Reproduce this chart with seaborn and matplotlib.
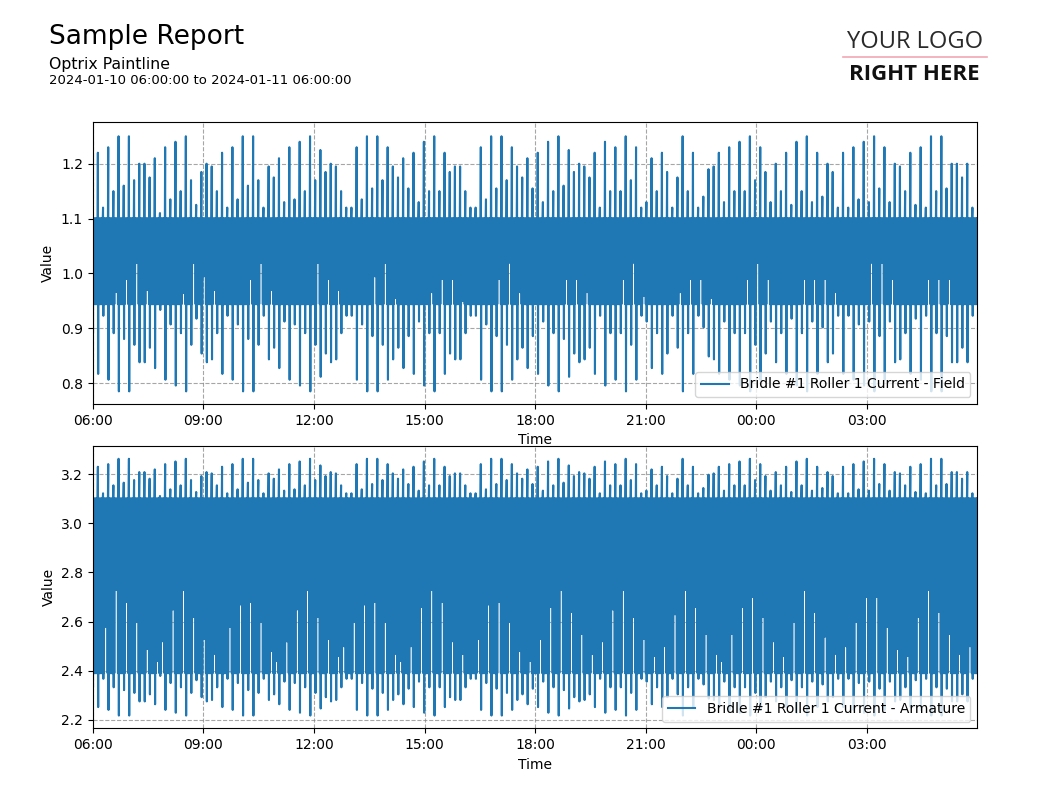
import numpy as np
import pandas as pd
import seaborn as sns
import matplotlib.pyplot as plt
import matplotlib.dates as mdates
from matplotlib.lines import Line2D

start = '2024-01-10 06:00:00'
end = '2024-01-11 06:00:00'

# spike size above/below the normal band, one per ~8.4 min
spike_dev = [
    0.05, 0.12, 0.02, 0.13, 0.05, 0.15, 0.06, 0.15, 0.07, 0.10, 0.10, 0.075, 0.11, 0.01, 0.13,
    0.035, 0.14, 0.05, 0.15, 0.07, 0.025, 0.085, 0.10, 0.095, 0.05, 0.12, 0.02, 0.13, 0.035, 0.15,
    0.06, 0.15, 0.07, 0.02, 0.095, 0.075, 0.11, 0.03, 0.13, 0.035, 0.14, 0.05, 0.15,
    0.07, 0.125, 0.085, 0.10, 0.095, 0.05, 0.02, 0.02, 0.13, 0.035, 0.15, 0.055, 0.15, 0.07, 0.13,
    0.095, 0.075, 0.11, 0.055, 0.12, 0.03, 0.14, 0.05, 0.15, 0.05, 0.12, 0.085, 0.095, 0.095, 0.05,
    0.02, 0.02, 0.13, 0.035, 0.15, 0.055, 0.15, 0.07, 0.13, 0.095, 0.075, 0.11, 0.055,
    0.12, 0.03, 0.14, 0.05, 0.15, 0.06, 0.125, 0.085, 0.10, 0.095, 0.075, 0.12, 0.02, 0.14, 0.05,
    0.13, 0.05, 0.15, 0.07, 0.13, 0.02, 0.03, 0.11, 0.05, 0.12, 0.085, 0.02, 0.075, 0.15, 0.05,
    0.12, 0.02, 0.04, 0.09, 0.095, 0.12, 0.03, 0.13, 0.05, 0.14, 0.05, 0.15,
    0.07, 0.13, 0.085, 0.03, 0.10, 0.05, 0.12, 0.025, 0.14, 0.05, 0.15, 0.03, 0.12, 0.04, 0.10,
    0.085, 0.02, 0.12, 0.02, 0.13, 0.035, 0.14, 0.03, 0.15, 0.055, 0.13, 0.03, 0.10, 0.095, 0.05,
    0.12, 0.025, 0.13, 0.02, 0.15, 0.05, 0.15, 0.055, 0.10, 0.10, 0.075, 0.10, 0.02,
]

# field current: normal band and spike extremes
field_band = (0.944, 1.100)
field_scale = (1.06, 1.0)   # down, up
field_gap_cycles = [4, 6, 8, 10, 17, 19, 21, 23, 30, 32, 34, 43, 45, 47, 54, 56, 58,
                    65, 67, 69, 71, 78, 80, 82, 91, 93, 95, 102, 104, 106, 113, 115, 117, 119,
                    126, 128, 130, 137, 139, 141, 143, 150, 152, 154, 161, 163, 165]
field_gap_levels = [0.967, 0.99, 1.02, 0.97, 0.965, 1.02, 0.995, 0.97, 0.99, 1.02, 0.97,
                    1.02, 0.99, 0.97, 0.995, 1.02, 0.956, 0.966, 0.99, 0.99, 0.95, 0.99, 1.02,
                    0.966, 0.99, 0.99, 0.966, 0.99, 1.02, 0.96, 0.966, 0.99, 0.99, 0.956,
                    0.99, 1.02, 0.99, 0.99, 0.99, 0.99, 0.966, 1.02, 1.02, 0.99, 0.99, 0.99, 0.99]

# armature current
arm_band = (2.39, 3.10)
arm_scale = (1.15, 1.08)
arm_gap_cycles = [2, 4, 6, 8, 10, 12, 13, 15, 17, 19, 21, 23, 26, 28, 30, 32, 34, 35, 37, 39,
                  41, 43, 45, 47, 48, 50, 52, 54, 56, 58, 59, 61, 63, 65, 67, 69, 71, 74, 76,
                  78, 80, 82, 84, 86, 88, 90, 92, 94, 96, 98, 100, 102, 104, 106, 108, 110,
                  112, 114, 116, 118, 120, 121, 123, 125, 127, 129, 131, 133, 135, 137, 139,
                  141, 143, 145, 147, 149, 151, 153, 155, 157, 159, 161, 163, 165, 167, 169]
arm_gap_levels = [2.58, 2.73, 2.68, 2.60, 2.49, 2.44, 2.52, 2.65, 2.73, 2.62, 2.53, 2.47,
                  2.58, 2.67, 2.68, 2.60, 2.48, 2.44, 2.52, 2.65, 2.73, 2.62, 2.53, 2.46,
                  2.50, 2.60, 2.67, 2.68, 2.60, 2.47, 2.44, 2.50, 2.66, 2.73, 2.68, 2.52,
                  2.47, 2.53, 2.67, 2.68, 2.60, 2.48, 2.44, 2.53, 2.66, 2.73, 2.64, 2.55,
                  2.47, 2.52, 2.65, 2.73, 2.62, 2.53, 2.46, 2.50, 2.63, 2.73, 2.66, 2.55,
                  2.47, 2.44, 2.55, 2.66, 2.70, 2.62, 2.52, 2.46, 2.60, 2.73, 2.64, 2.54,
                  2.47, 2.50, 2.60, 2.70, 2.70, 2.58, 2.49, 2.46, 2.62, 2.73, 2.64, 2.55,
                  2.47, 2.50]

SAMPLES_PER_CYCLE = 17


def build_series(band, scale, gap_cycles, gap_levels):
    lo, hi = band
    gaps = dict(zip(gap_cycles, gap_levels))
    vals = []
    for k, d in enumerate(spike_dev):
        for s in range(SAMPLES_PER_CYCLE):
            if s == 0:
                v = hi + d * scale[1]
            elif s == 1:
                v = lo - d * scale[0]
            elif s % 2 == 0:
                v = hi
            elif k in gaps and 4 <= s <= 14:
                v = gaps[k]
            else:
                v = lo
            vals.append(v)
    return np.array(vals)


field = build_series(field_band, field_scale, field_gap_cycles, field_gap_levels)
armature = build_series(arm_band, arm_scale, arm_gap_cycles, arm_gap_levels)
# samples run from 06:00 up to just before 06:00 next day
times = pd.date_range(start, end, periods=len(field) + 1)[:-1]

df = pd.DataFrame({'Time': times, 'Field': field, 'Armature': armature})

fig = plt.figure(figsize=(10.38, 8), dpi=100)

fig.text(49 / 1038, 1 - 37 / 800, 'Sample Report', fontsize=19, va='center')
fig.text(49 / 1038, 1 - 64 / 800, 'Optrix Paintline', fontsize=11.3, va='center')
fig.text(49 / 1038, 1 - 81 / 800, f'{start} to {end}', fontsize=9.5, va='center')

fig.text(915 / 1038, 1 - 42 / 800, 'YOUR LOGO', fontsize=17, family='Open Sans',
         color='#2a2a2a', ha='center', va='center')
fig.text(914 / 1038, 1 - 75 / 800, 'RIGHT HERE', fontsize=16, family='Open Sans',
         weight='bold', color='#111111', ha='center', va='center')
fig.add_artist(Line2D([843 / 1038, 987 / 1038], [1 - 57 / 800, 1 - 57 / 800],
                      color='#f2a7b1', linewidth=1.2))

panels = [
    ('Field', 'Bridle #1 Roller 1 Current - Field', [0.0893, 0.495, 0.8522, 0.3525], (0.762, 1.276)),
    ('Armature', 'Bridle #1 Roller 1 Current - Armature', [0.0893, 0.0894, 0.8522, 0.3531], (2.165, 3.314)),
]

for col, label, rect, ylim in panels:
    ax = fig.add_axes(rect)
    sns.lineplot(data=df, x='Time', y=col, ax=ax, color='#1f77b4', linewidth=1.5,
                 estimator=None, label=label)
    ax.set_xlim(times[0], times[-1])
    ax.set_ylim(*ylim)
    ax.xaxis.set_major_locator(mdates.HourLocator(byhour=range(0, 24, 3)))
    ax.xaxis.set_major_formatter(mdates.DateFormatter('%H:%M'))
    ax.grid(True, linestyle='--', color='gray', alpha=0.7, linewidth=0.8)
    ax.set_xlabel('Time')
    ax.set_ylabel('Value')
    ax.legend(loc='lower right')

fig.savefig('out.png', dpi=100)
